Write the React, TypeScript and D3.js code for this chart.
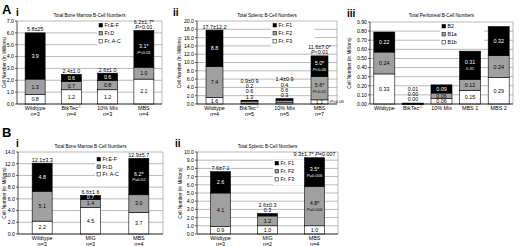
import React from "react";
import * as d3 from "d3";

// ---------- Panel A-i : Total Bone Marrow B-Cell Numbers ----------
const aiCategories = ["Wildtype", "BtkTec-/-", "10% Mix", "MBS"];
const aiN = ["n=3", "n=4", "n=3", "n=4"];
const aiFrAC = [0.8, 1.2, 1.2, 2.1];
const aiFrD = [1.3, 0.7, 0.8, 1.0];
const aiFrEF = [3.9, 0.6, 0.6, 3.1];
const aiLabAC = ["0.8", "1.2", "1.2", "2.1"];
const aiLabD = ["1.3", "0.7", "0.8", "1.0"];
const aiLabEF = ["3.9", "0.6", "0.6", "3.1*\nP<0.01"];
const aiTotals = ["5.8±25", "2.4±1.0", "2.6±1.0", "6.2±1.7*\nP<0.01"];
const aiTicks = [0, 1, 2, 3, 4, 5, 6, 7];
const aiLegend = ["Fr.E-F", "Fr.D", "Fr. A-C"];

// ---------- Panel A-ii : Total Splenic B-Cell Numbers ----------
const aiiCategories = ["Wildtype", "BtkTec-/-", "10% Mix", "MBS"];
const aiiN = ["n=4", "n=5", "n=5", "n=7"];
const aiiF3 = [1.6, 0.1, 0.3, 1.0];
const aiiF2 = [7.4, 0.6, 0.6, 5.6];
const aiiF1 = [8.8, 0.2, 0.4, 5.0];
const aiiLabF3 = ["1.6", "1.3", "0.3", "1.1"];
const aiiLabF2 = ["7.4", "0.6", "0.6", "5.6*\nP<0.01"];
const aiiLabF1 = ["8.8", "0.2", "0.4", "5.0*\nP<0.05"];
const aiiTotals = ["17.7±12.2", "0.9±0.9", "1.4±0.9", "11.6±7.0*\nP<0.01"];
const aiiSideNotes = ["", "", "", "P<0.05"];
const aiiTicks = [0, 2, 4, 6, 8, 10, 12, 14, 16, 18, 20];
const aiiLegend = ["Fr. F1", "Fr. F2", "Fr. F3"];

// ---------- Panel A-iii : Total Peritoneal B-Cell Numbers ----------
const aiiiCategories = ["Wildtype", "BtkTec-/-", "10% Mix", "MBS 1", "MBS 2"];
const aiiiB1b = [0.33, 0.0, 0.06, 0.15, 0.29];
const aiiiB1a = [0.24, 0.0, 0.06, 0.12, 0.24];
const aiiiB2 = [0.22, 0.01, 0.09, 0.31, 0.32];
const aiiiLabB1b = ["0.33", "0.00", "0.06", "0.15", "0.29"];
const aiiiLabB1a = ["0.24", "0.00", "0.06", "0.12", "0.24"];
const aiiiLabB2 = ["0.22", "0.01", "0.09", "0.31\n0.31", "0.32"];
const aiiiTicks = [0, 0.1, 0.2, 0.3, 0.4, 0.5, 0.6, 0.7, 0.8, 0.9];
const aiiiLegend = ["B2", "B1a", "B1b"];

// ---------- Panel B-i : Total Bone Marrow B-Cell Numbers ----------
const biCategories = ["Wildtype", "MIG", "MBS"];
const biN = ["n=3", "n=3", "n=4"];
const biFrAC = [2.2, 4.5, 3.7];
const biFrD = [5.1, 1.4, 3.0];
const biFrEF = [4.8, 0.7, 6.2];
const biLabAC = ["2.2", "4.5", "3.7"];
const biLabD = ["5.1", "1.4", "3.0"];
const biLabEF = ["4.8", "0.7", "6.2*\nP=0.02"];
const biTotals = ["12.1±3.3", "6.6±1.6", "12.9±5.7"];
const biTicks = [0, 2, 4, 6, 8, 10, 12, 14];
const biLegend = ["Fr.E-F", "Fr.D", "Fr. A-C"];

// ---------- Panel B-ii : Total Splenic B-Cell Numbers ----------
const biiCategories = ["Wildtype", "MIG", "MBS"];
const biiN = ["n=3", "n=2", "n=4"];
const biiF3 = [0.9, 1.0, 1.0];
const biiF2 = [4.1, 1.2, 4.8];
const biiF1 = [2.6, 0.3, 3.5];
const biiLabF3 = ["0.9", "1.0", "1.0"];
const biiLabF2 = ["4.1", "1.2", "4.8*\nP=0.004"];
const biiLabF1 = ["2.6", "0.3", "3.5*\nP=0.005"];
const biiTotals = ["7.6±7.1", "2.6±0.3", "9.3±1.7* P=0.007"];
const biiTicks = [0, 1, 2, 3, 4, 5, 6, 7, 8, 9, 10];
const biiLegend = ["Fr. F1", "Fr. F2", "Fr. F3"];

const FONT = "'Liberation Sans', Arial, sans-serif";
const FILLS = ["#ffffff", "#a0a0a0", "#000000"];

function Rich({ text }: { text: string }) {
  const parts = text.split(/(P)(?=[<=])/);
  return (
    <>
      {parts.map((p, i) =>
        p === "P" ? (
          <tspan key={i} fontStyle="italic">P</tspan>
        ) : (
          <tspan key={i}>{p}</tspan>
        )
      )}
    </>
  );
}

function CatLabel({ text }: { text: string }) {
  if (text.endsWith("-/-")) {
    return (
      <>
        <tspan>{text.slice(0, -3)}</tspan>
        <tspan dy={-2} fontSize={3.8}>-/-</tspan>
      </>
    );
  }
  return <tspan>{text}</tspan>;
}

type PanelProps = {
  left: number; right: number; top: number; bottom: number;
  ticks: number[]; decimals: number;
  categories: string[]; nLabels?: string[];
  series: number[][]; segLabels: string[][]; totals?: string[]; sideNotes?: string[];
  legend: string[]; legendX: number; legendY: number; legendStep: number;
  title: string; titleY: number; numeral: string; numeralX: number; numeralY: number;
  barWidth: number; yLabelX: number;
};

function Panel(p: PanelProps) {
  const yMax = p.ticks[p.ticks.length - 1];
  const y = d3.scaleLinear().domain([0, yMax]).range([p.bottom, p.top]);
  const x = d3.scaleBand().domain(p.categories).range([p.left, p.right]).padding(0);
  const rows = p.categories.map((c, i) => ({ cat: c, s0: p.series[0][i], s1: p.series[1][i], s2: p.series[2][i] }));
  const stacked = d3.stack<any>().keys(["s0", "s1", "s2"])(rows);
  const fmt = d3.format(`.${p.decimals}f`);
  const els: React.ReactNode[] = [];
  const FS = 5.4;

  p.categories.forEach((c, i) => {
    const cx = (x(c) as number) + x.bandwidth() / 2;
    const bx = cx - p.barWidth / 2;
    const outside: string[] = [];
    stacked.forEach((layer, k) => {
      const [y0, y1] = layer[i];
      const py0 = y(y0), py1 = y(y1);
      const h = py0 - py1;
      els.push(
        <rect key={`r${i}${k}`} x={bx} y={py1} width={p.barWidth} height={Math.max(h, 0.6)}
          fill={FILLS[k]} stroke="#000" strokeWidth={0.6} />
      );
      const lab = p.segLabels[k][i];
      if (h < 4) {
        outside.push(lab);
      } else {
        const lines = lab.split("\n");
        const mid = (py0 + py1) / 2;
        lines.forEach((ln, j) => {
          const dy = lines.length === 1 ? 1.9 : j === 0 ? -0.8 : 4.8;
          els.push(
            <text key={`l${i}${k}${j}`} x={cx} y={mid + dy} textAnchor="middle"
              fontSize={j === 0 ? FS : 4.2} fill={k === 2 ? "#fff" : "#000"}>
              <Rich text={ln} />
            </text>
          );
        });
      }
    });
    const topY = y(stacked[2][i][1]);
    const totLines = p.totals ? p.totals[i].split("\n") : [];
    const above = [...outside, ...totLines.slice().reverse()];
    above.forEach((ln, j) => {
      els.push(
        <text key={`t${i}${j}`} x={cx} y={topY - 1.6 - j * 5.2} textAnchor="middle" fontSize={FS}>
          <Rich text={ln} />
        </text>
      );
    });
    if (p.sideNotes && p.sideNotes[i]) {
      const ym = (y(stacked[0][i][0]) + y(stacked[0][i][1])) / 2;
      els.push(
        <text key={`sn${i}`} x={bx + p.barWidth + 2} y={ym + 1.5} fontSize={4.4}>
          <Rich text={p.sideNotes[i]} />
        </text>
      );
    }
    els.push(
      <text key={`c${i}`} x={cx} y={p.bottom + 6.2} textAnchor="middle" fontSize={FS}>
        <CatLabel text={c} />
      </text>
    );
    if (p.nLabels) {
      els.push(
        <text key={`n${i}`} x={cx} y={p.bottom + 11.8} textAnchor="middle" fontSize={FS}>{p.nLabels[i]}</text>
      );
    }
  });

  return (
    <g fontFamily={FONT}>
      <text x={p.numeralX} y={p.numeralY} fontSize={10} fontWeight="bold">{p.numeral}</text>
      <text x={(p.left + p.right) / 2} y={p.titleY} textAnchor="middle" fontSize={4.6}>{p.title}</text>
      {p.ticks.map((t) => (
        <g key={t}>
          <line x1={p.left} x2={p.right} y1={y(t)} y2={y(t)} stroke="#8a8a8a" strokeWidth={0.6} />
          <line x1={p.left - 2} x2={p.left} y1={y(t)} y2={y(t)} stroke="#000" strokeWidth={0.6} />
          <text x={p.left - 3} y={y(t) + 1.9} textAnchor="end" fontSize={5.2}>{fmt(t)}</text>
        </g>
      ))}
      <line x1={p.right} x2={p.right} y1={p.top} y2={p.bottom} stroke="#8a8a8a" strokeWidth={0.6} />
      <text transform={`translate(${p.yLabelX},${(p.top + p.bottom) / 2}) rotate(-90)`} textAnchor="middle" fontSize={4.7}>
        Cell Number (In Millions)
      </text>
      <rect x={p.legendX - 2} y={p.legendY - 5} width={44} height={p.legendStep * 3 + 1} fill="#fff" />
      {p.legend.map((name, k) => (
        <g key={name}>
          <rect x={p.legendX} y={p.legendY - 3.6 + k * p.legendStep} width={3.6} height={3.6}
            fill={FILLS[2 - k]} stroke="#000" strokeWidth={0.5} />
          <text x={p.legendX + 5.5} y={p.legendY + k * p.legendStep} fontSize={5.2}>{name}</text>
        </g>
      ))}
      {els}
      <line x1={p.left} x2={p.left} y1={p.top} y2={p.bottom} stroke="#000" strokeWidth={0.7} />
      <line x1={p.left} x2={p.right} y1={p.bottom} y2={p.bottom} stroke="#000" strokeWidth={0.7} />
    </g>
  );
}

export default function App() {
  return (
    <svg width={520} height={247} style={{ position: "absolute", left: 0, top: 0, background: "#fff" }}>
      <rect width={520} height={247} fill="#fff" />
      <text x={2} y={14} fontSize={13} fontWeight="bold" fontFamily={FONT}>A</text>
      <text x={2} y={137} fontSize={13} fontWeight="bold" fontFamily={FONT}>B</text>
      <Panel left={17} right={162} top={21} bottom={104} ticks={aiTicks} decimals={1}
        categories={aiCategories} nLabels={aiN} series={[aiFrAC, aiFrD, aiFrEF]}
        segLabels={[aiLabAC, aiLabD, aiLabEF]} totals={aiTotals}
        legend={aiLegend} legendX={99} legendY={27} legendStep={8}
        title="Total Bone Marrow B-Cell Numbers" titleY={17} numeral="i" numeralX={16} numeralY={16}
        barWidth={20} yLabelX={6} />
      <Panel left={197} right={337} top={21} bottom={104} ticks={aiiTicks} decimals={1}
        categories={aiiCategories} nLabels={aiiN} series={[aiiF3, aiiF2, aiiF1]}
        segLabels={[aiiLabF3, aiiLabF2, aiiLabF1]} totals={aiiTotals} sideNotes={aiiSideNotes}
        legend={aiiLegend} legendX={273} legendY={27} legendStep={8}
        title="Total Splenic B-Cell Numbers" titleY={17} numeral="ii" numeralX={173} numeralY={16}
        barWidth={17} yLabelX={181} />
      <Panel left={370} right={513} top={22} bottom={104} ticks={aiiiTicks} decimals={2}
        categories={aiiiCategories} series={[aiiiB1b, aiiiB1a, aiiiB2]}
        segLabels={[aiiiLabB1b, aiiiLabB1a, aiiiLabB2]}
        legend={aiiiLegend} legendX={442} legendY={28} legendStep={8}
        title="Total Peritoneal B-Cell Numbers" titleY={17} numeral="iii" numeralX={347} numeralY={17}
        barWidth={21} yLabelX={351} />
      <Panel left={18} right={163} top={152} bottom={234} ticks={biTicks} decimals={1}
        categories={biCategories} nLabels={biN} series={[biFrAC, biFrD, biFrEF]}
        segLabels={[biLabAC, biLabD, biLabEF]} totals={biTotals}
        legend={biLegend} legendX={97} legendY={161} legendStep={7.5}
        title="Total Bone Marrow B-Cell Numbers" titleY={148} numeral="i" numeralX={16} numeralY={147}
        barWidth={20} yLabelX={6} />
      <Panel left={197} right={338} top={152} bottom={234} ticks={biiTicks} decimals={1}
        categories={biiCategories} nLabels={biiN} series={[biiF3, biiF2, biiF1]}
        segLabels={[biiLabF3, biiLabF2, biiLabF1]} totals={biiTotals}
        legend={biiLegend} legendX={275} legendY={165} legendStep={8}
        title="Total Splenic B-Cell Numbers" titleY={148} numeral="ii" numeralX={175} numeralY={147}
        barWidth={20} yLabelX={182} />
    </svg>
  );
}
